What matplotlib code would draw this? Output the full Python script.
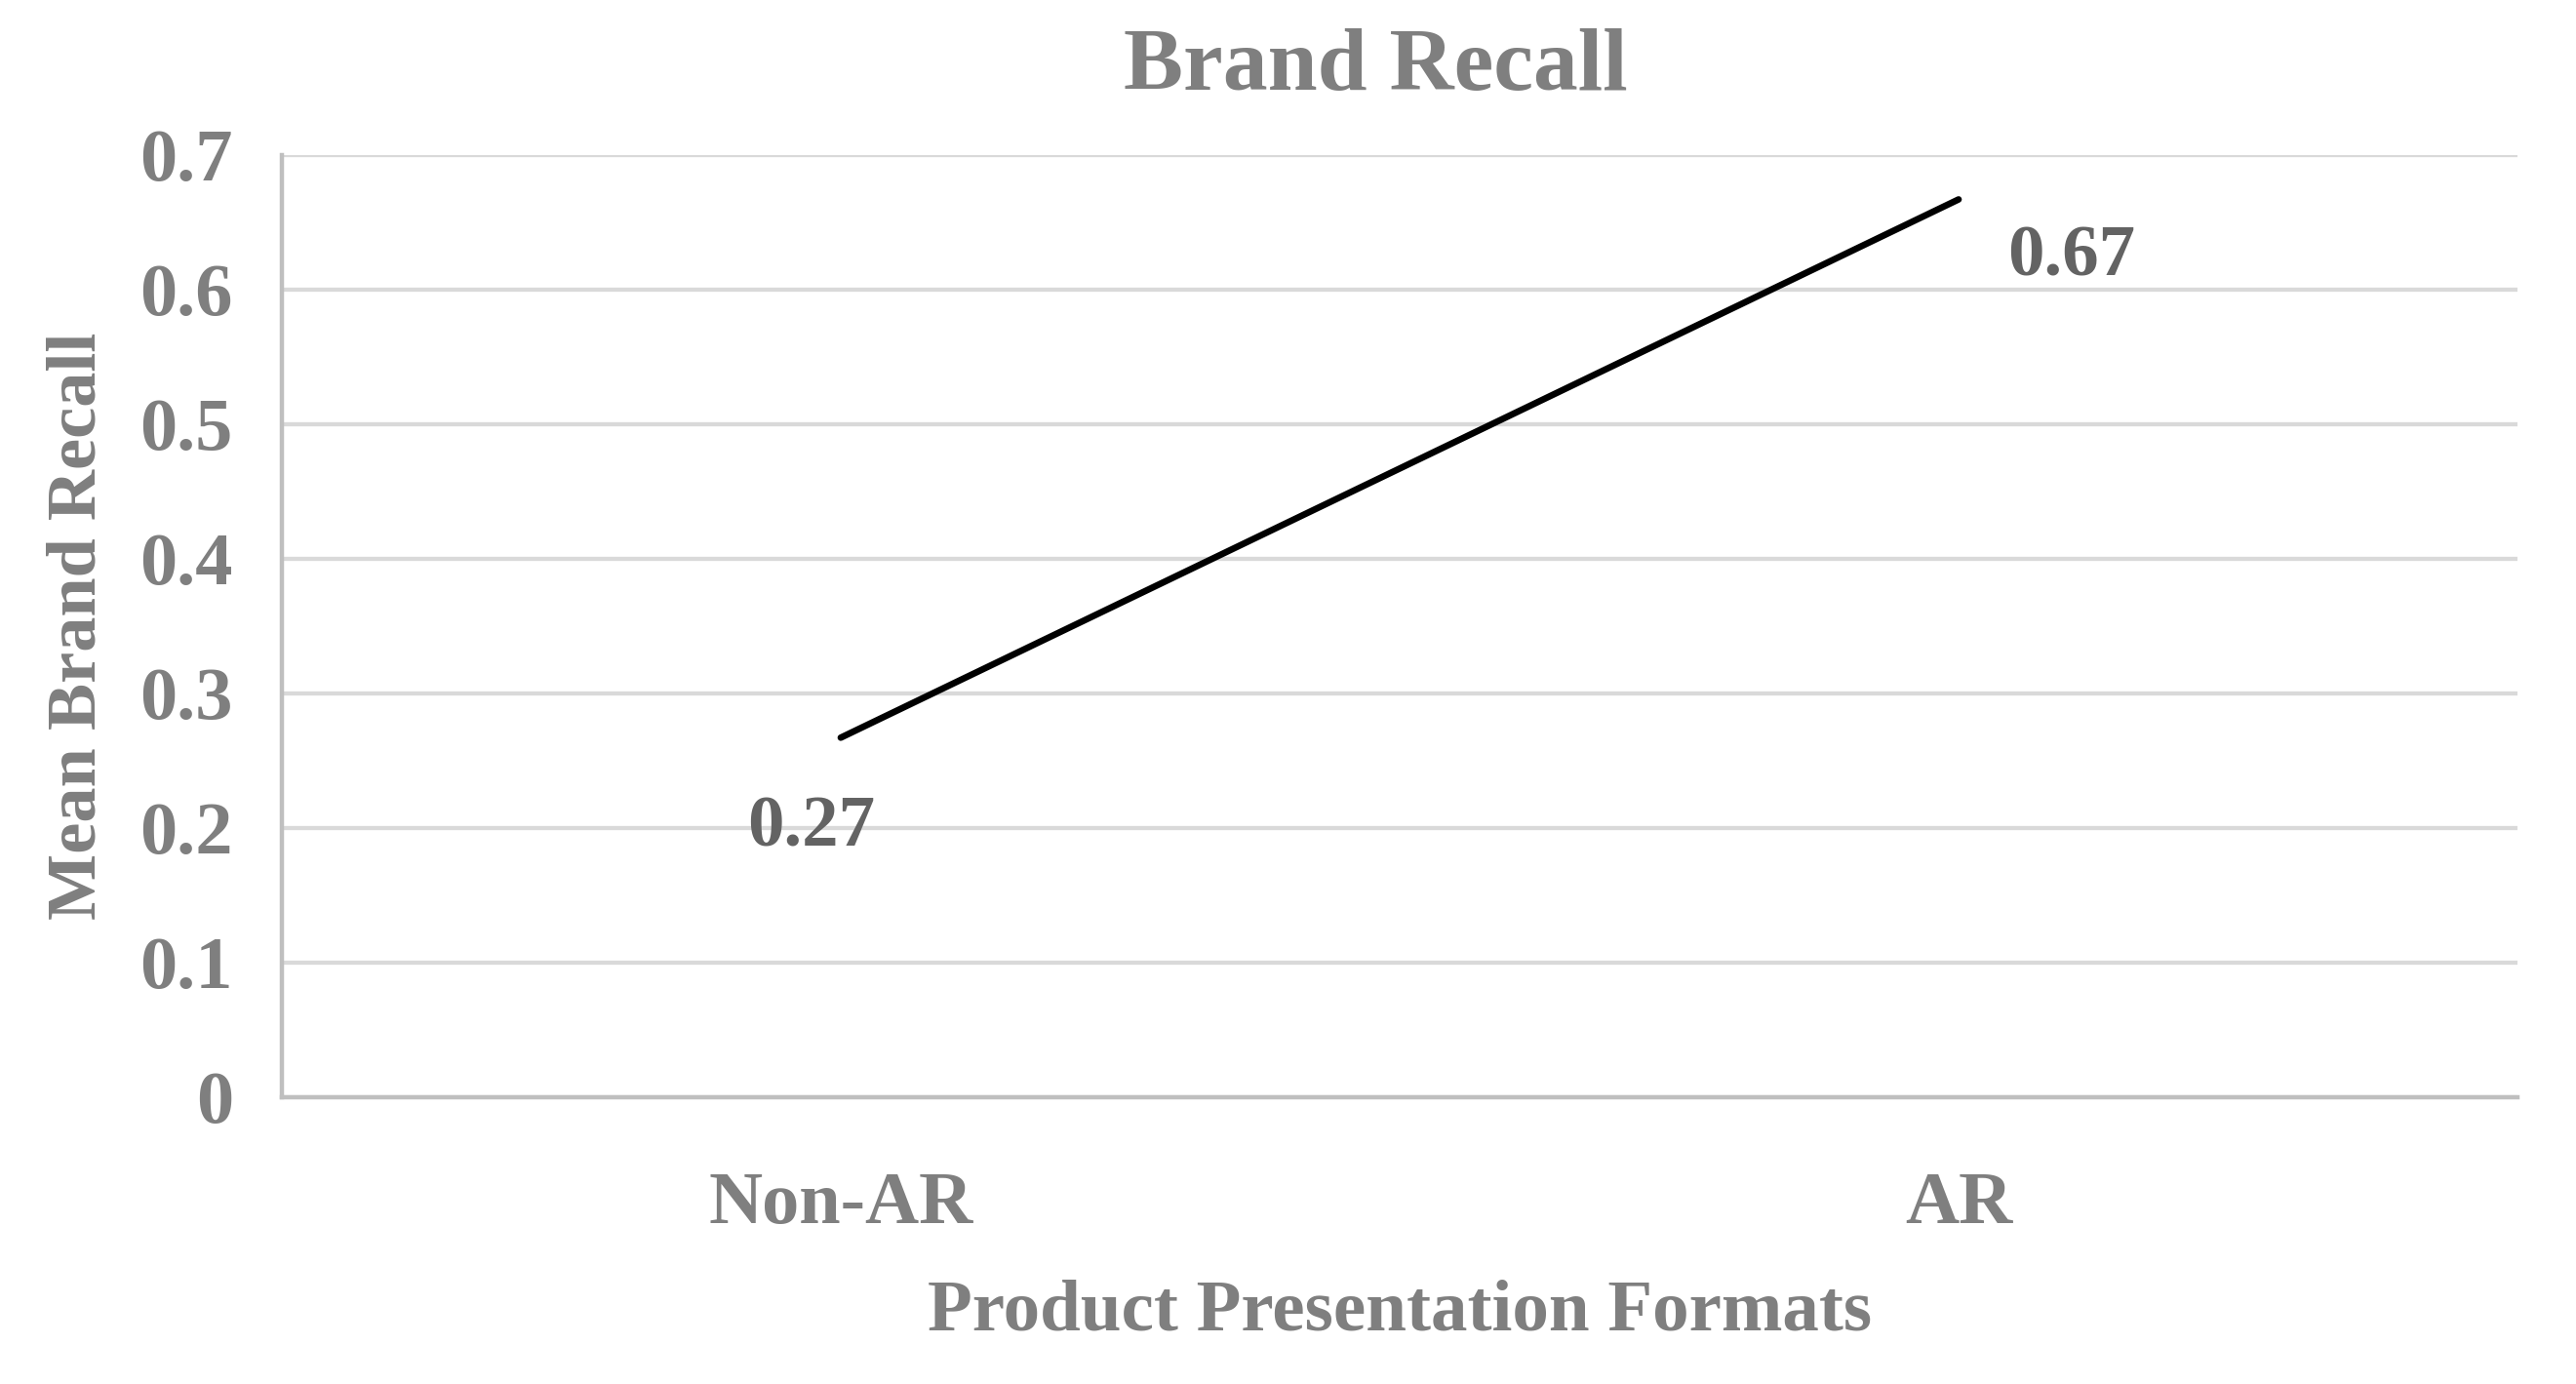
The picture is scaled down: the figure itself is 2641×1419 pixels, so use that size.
import matplotlib
matplotlib.use("Agg")
import matplotlib.pyplot as plt

# Chart data
categories = ["Non-AR", "AR"]
recall = [0.267, 0.667]
yticks = [0, 0.1, 0.2, 0.3, 0.4, 0.5, 0.6, 0.7]
ytick_labels = ["0", "0.1", "0.2", "0.3", "0.4", "0.5", "0.6", "0.7"]

plt.rcParams["font.family"] = ["Liberation Serif", "DejaVu Serif"]
plt.rcParams["font.weight"] = "bold"

fig = plt.figure(figsize=(26.41, 14.19), dpi=100)
ax = fig.add_axes([0.1094, 0.2074, 0.8679, 0.6806])

x = list(range(len(categories)))
ax.plot(x, recall, color="black", linewidth=4.8, solid_capstyle="round", zorder=3)

# Data labels (Excel-style: first below, second to the right)
offsets = [(-30, -111), (116, -78)]
for xi, v, (dx, dy) in zip(x, recall, offsets):
    ax.annotate(f"{v:.2f}", (xi, v), xytext=(dx * 0.72, dy * 0.72),
                textcoords="offset points", ha="center", va="baseline",
                fontsize=54, fontweight="bold", color="#636363")

ax.set_xlim(-0.5, 1.5)
ax.set_ylim(0, 0.7)
ax.set_yticks(yticks)
ax.set_yticklabels(ytick_labels)
ax.set_xticks(x)
ax.set_xticklabels(categories)

ax.grid(axis="y", color="#d9d9d9", linewidth=3.1)
ax.set_axisbelow(True)
for side in ["top", "right"]:
    ax.spines[side].set_visible(False)
for side in ["left", "bottom"]:
    ax.spines[side].set_color("#bfbfbf")
    ax.spines[side].set_linewidth(3.2)
ax.spines["bottom"].set_zorder(2)

ax.tick_params(axis="both", length=0, labelsize=55, labelcolor="#7f7f7f")
ax.tick_params(axis="y", pad=36)
ax.tick_params(axis="x", pad=55)

ax.set_xlabel("Product Presentation Formats", fontsize=54, fontweight="bold",
              color="#7f7f7f", labelpad=30)
ax.set_ylabel("Mean Brand Recall", fontsize=52, fontweight="bold",
              color="#7f7f7f", labelpad=22)
fig.text(0.534, 0.935, "Brand Recall", ha="center", va="baseline",
         fontsize=66, fontweight="bold", color="#7f7f7f")

fig.savefig("out.png", dpi=100)
